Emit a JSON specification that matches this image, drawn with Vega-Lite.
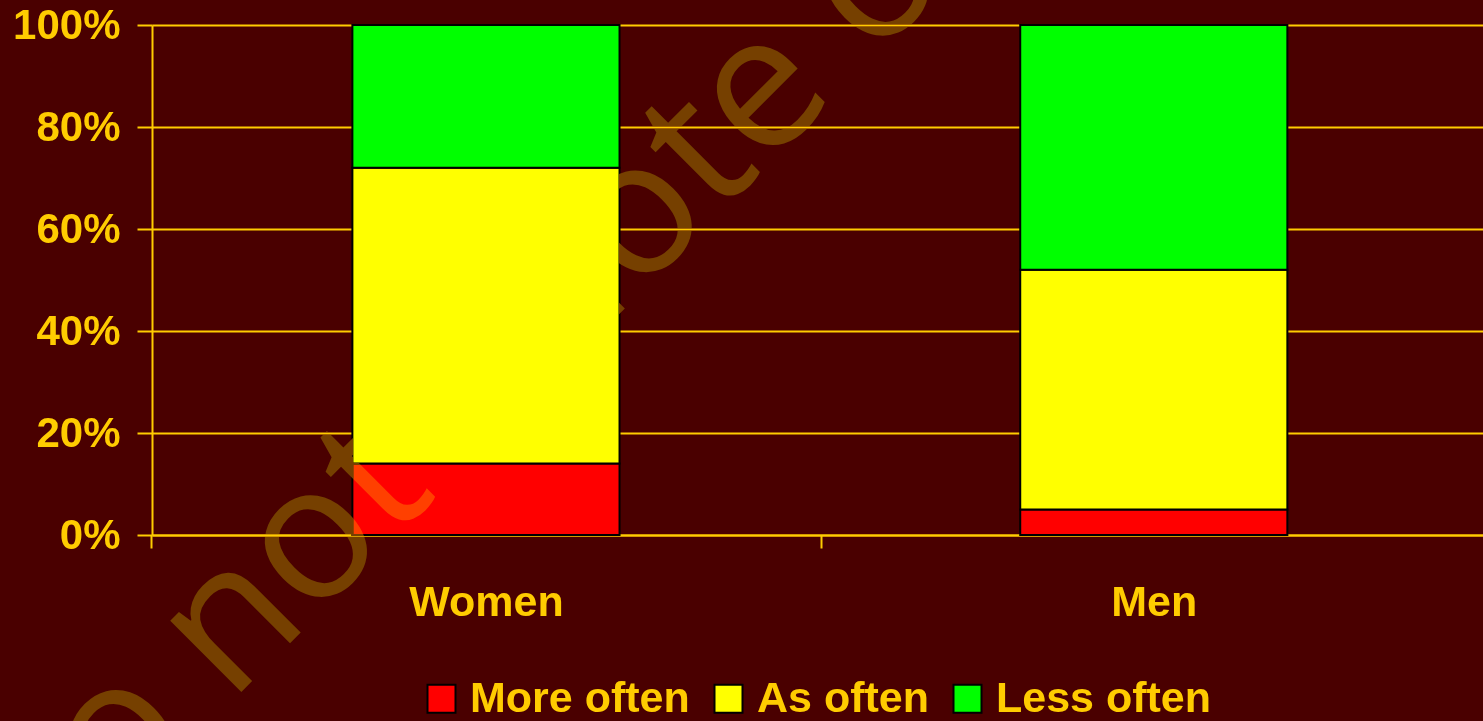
{
  "$schema": "https://vega.github.io/schema/vega-lite/v6.json",
  "width": 1331,
  "height": 510,
  "autosize": {"type": "none"},
  "padding": {"left": 152, "top": 25, "right": 0, "bottom": 186},
  "background": "#4A0000",
  "config": {"view": {"stroke": null}, "font": "Liberation Sans"},
  "datasets": {
    "bars": [
      {"sex": "Women", "response": "More often", "ord": 1, "pct": 0.14},
      {"sex": "Women", "response": "As often", "ord": 2, "pct": 0.58},
      {"sex": "Women", "response": "Less often", "ord": 3, "pct": 0.28},
      {"sex": "Men", "response": "More often", "ord": 1, "pct": 0.05},
      {"sex": "Men", "response": "As often", "ord": 2, "pct": 0.47},
      {"sex": "Men", "response": "Less often", "ord": 3, "pct": 0.48}
    ],
    "wmLeft": [{"label": "Please do", "wx": 0.0338, "wy": -0.395}],
    "wmRight": [{"label": "not quote or cite", "wx": 0.0586, "wy": -0.33}]
  },
  "layer": [
    {
      "data": {"name": "bars"},
      "mark": {"type": "bar", "stroke": "#000000", "strokeWidth": 2},
      "encoding": {
        "x": {
          "field": "sex", "type": "nominal", "sort": ["Women", "Men"],
          "scale": {"paddingInner": 0.6, "paddingOuter": 0.2965, "align": 0.506},
          "axis": {"title": null, "labelAngle": 0, "labelFont": "Liberation Sans", "labelFontSize": 43, "labelFontWeight": "bold", "labelColor": "#FFCC00", "labelPadding": 33, "bandPosition": 2.506, "tickOffset": -201, "tickExtra": true, "labelOffset": 201, "tickSize": 13, "tickColor": "#FFCC00", "tickWidth": 2, "domainColor": "#FFCC00", "domainWidth": 2, "grid": false}
        },
        "y": {
          "field": "pct", "type": "quantitative", "stack": "zero",
          "scale": {"domain": [0, 1], "nice": false},
          "axis": {"title": null, "grid": true, "values": [0, 0.2, 0.4, 0.6, 0.8, 1], "format": ".0%", "labelFont": "Liberation Sans", "labelFontSize": 42, "labelFontWeight": "bold", "labelColor": "#FFCC00", "labelPadding": 17, "tickSize": 15, "tickColor": "#FFCC00", "tickWidth": 2, "domainColor": "#FFCC00", "domainWidth": 2, "gridColor": "#FFCC00", "gridWidth": 2, "gridOpacity": 1}
        },
        "color": {
          "field": "response", "type": "nominal",
          "sort": ["More often", "As often", "Less often"],
          "scale": {"domain": ["More often", "As often", "Less often"], "range": ["#FF0000", "#FFFF00", "#00FF00"]},
          "legend": {"title": null, "orient": "none", "legendX": 268, "legendY": 652, "direction": "horizontal", "symbolType": "square", "symbolSize": 784, "symbolStrokeColor": "#000000", "symbolStrokeWidth": 2, "symbolOpacity": 1, "labelFont": "Liberation Sans", "labelFontSize": 43, "labelFontWeight": "bold", "labelColor": "#FFCC00", "labelLimit": 500, "labelOffset": 7, "columnPadding": 17}
        },
        "order": {"field": "ord", "type": "quantitative"}
      }
    },
    {
      "data": {"name": "wmLeft"},
      "mark": {"type": "text", "font": "Open Sans", "fontSize": 188, "angle": 315, "fill": "#764000", "blend": "lighten", "align": "right", "baseline": "alphabetic"},
      "encoding": {
        "x": {"field": "wx", "type": "quantitative", "scale": {"domain": [0, 1], "nice": false, "zero": false}, "axis": null},
        "y": {"field": "wy", "type": "quantitative", "scale": {"domain": [0, 1], "nice": false, "zero": false}, "axis": null},
        "text": {"field": "label"}
      }
    },
    {
      "data": {"name": "wmRight"},
      "mark": {"type": "text", "font": "Open Sans", "fontSize": 188, "angle": 315, "fill": "#764000", "blend": "lighten", "align": "left", "baseline": "alphabetic"},
      "encoding": {
        "x": {"field": "wx", "type": "quantitative", "scale": {"domain": [0, 1], "nice": false, "zero": false}, "axis": null},
        "y": {"field": "wy", "type": "quantitative", "scale": {"domain": [0, 1], "nice": false, "zero": false}, "axis": null},
        "text": {"field": "label"}
      }
    }
  ],
  "resolve": {"scale": {"x": "independent", "y": "independent"}}
}
